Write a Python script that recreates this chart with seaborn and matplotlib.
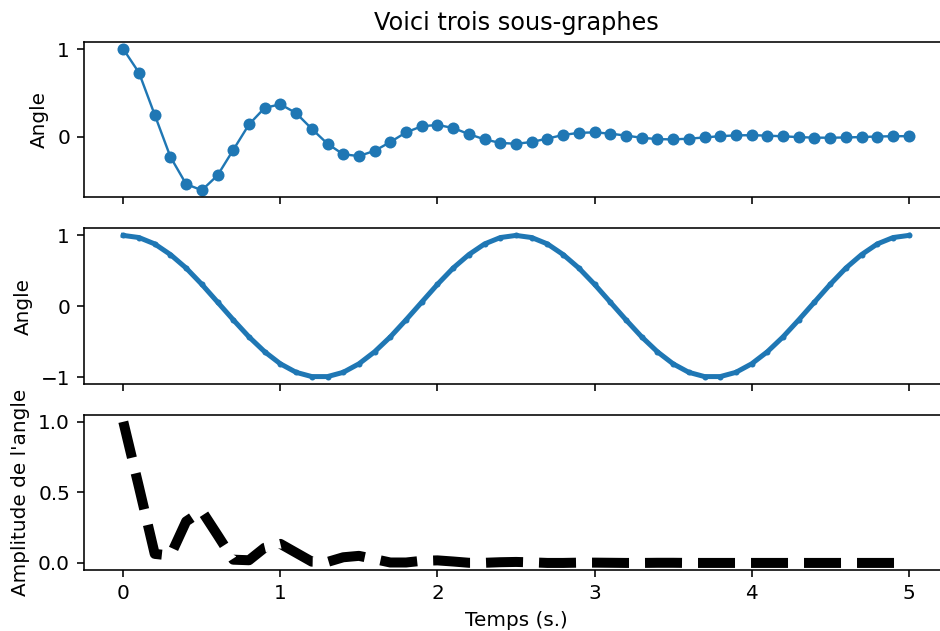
import matplotlib
matplotlib.use("Agg")
import matplotlib.pyplot as plt
import seaborn as sns
import pandas as pd

temps = [round(0.1 * i, 1) for i in range(51)]

angle_amorti = [1.00, 0.73, 0.25, -0.23, -0.54, -0.61, -0.44, -0.15, 0.14, 0.33,
                0.37, 0.27, 0.09, -0.08, -0.20, -0.22, -0.16, -0.06, 0.05, 0.12,
                0.135, 0.10, 0.03, -0.03, -0.07, -0.08, -0.06, -0.02, 0.02, 0.045,
                0.05, 0.036, 0.013, -0.011, -0.027, -0.03, -0.022, -0.008, 0.007, 0.016,
                0.018, 0.013, 0.005, -0.004, -0.01, -0.011, -0.008, -0.003, 0.003, 0.006,
                0.007]

angle_cos = [1.00, 0.97, 0.88, 0.73, 0.54, 0.31, 0.06, -0.19, -0.43, -0.64,
             -0.81, -0.93, -0.99, -0.99, -0.93, -0.81, -0.64, -0.43, -0.19, 0.06,
             0.31, 0.54, 0.73, 0.88, 0.97, 1.00, 0.97, 0.88, 0.73, 0.54,
             0.31, 0.06, -0.19, -0.43, -0.64, -0.81, -0.93, -0.99, -0.99, -0.93,
             -0.81, -0.64, -0.43, -0.19, 0.06, 0.31, 0.54, 0.73, 0.88, 0.97,
             1.00]

amplitude = [1.00, 0.536, 0.064, 0.052, 0.294, 0.368, 0.197, 0.023, 0.019, 0.108,
             0.135, 0.072, 0.009, 0.007, 0.040, 0.050, 0.027, 0.003, 0.003, 0.015,
             0.018, 0.010, 0.001, 0.001, 0.005, 0.007, 0.004, 0.000, 0.000, 0.002,
             0.002, 0.001, 0.000, 0.000, 0.001, 0.001, 0.000, 0.000, 0.000, 0.000,
             0.000, 0.000, 0.000, 0.000, 0.000, 0.000, 0.000, 0.000, 0.000, 0.000,
             0.000]

df = pd.DataFrame({"t": temps, "y1": angle_amorti, "y2": angle_cos, "y3": amplitude})

plt.rcParams['font.family'] = ['DejaVu Sans']
DPI = 144
fig, axes = plt.subplots(3, 1, sharex=True, figsize=(940 / DPI, 631 / DPI), dpi=DPI)
fig.subplots_adjust(left=0.0894, right=1.0085, top=0.9334, bottom=0.0967, hspace=0.2)

blue = "#1f77b4"
sns.lineplot(data=df, x="t", y="y1", ax=axes[0], color=blue, marker="o",
             markersize=6, markeredgewidth=0, linewidth=1.2, sort=False)
axes[0].set_title("Voici trois sous-graphes", fontsize=12)
axes[0].set_ylabel("Angle")
axes[0].set_yticks([0, 1])

sns.lineplot(data=df, x="t", y="y2", ax=axes[1], color=blue, marker=".",
             markersize=6, markeredgewidth=0, linewidth=2.5, sort=False)
axes[1].set_ylabel("Angle")
axes[1].set_yticks([-1, 0, 1])

sns.lineplot(data=df, x="t", y="y3", ax=axes[2], color="black", linestyle="--",
             linewidth=5, sort=False)
axes[2].set_ylabel("Amplitude de l'angle")
axes[2].set_xlabel("Temps (s.)")
axes[2].set_yticks([0.0, 0.5, 1.0])
axes[2].set_xticks([0, 1, 2, 3, 4, 5])

for ax in axes:
    ax.margins(x=0.05, y=0.05)

fig.savefig("out.png", dpi=DPI)
